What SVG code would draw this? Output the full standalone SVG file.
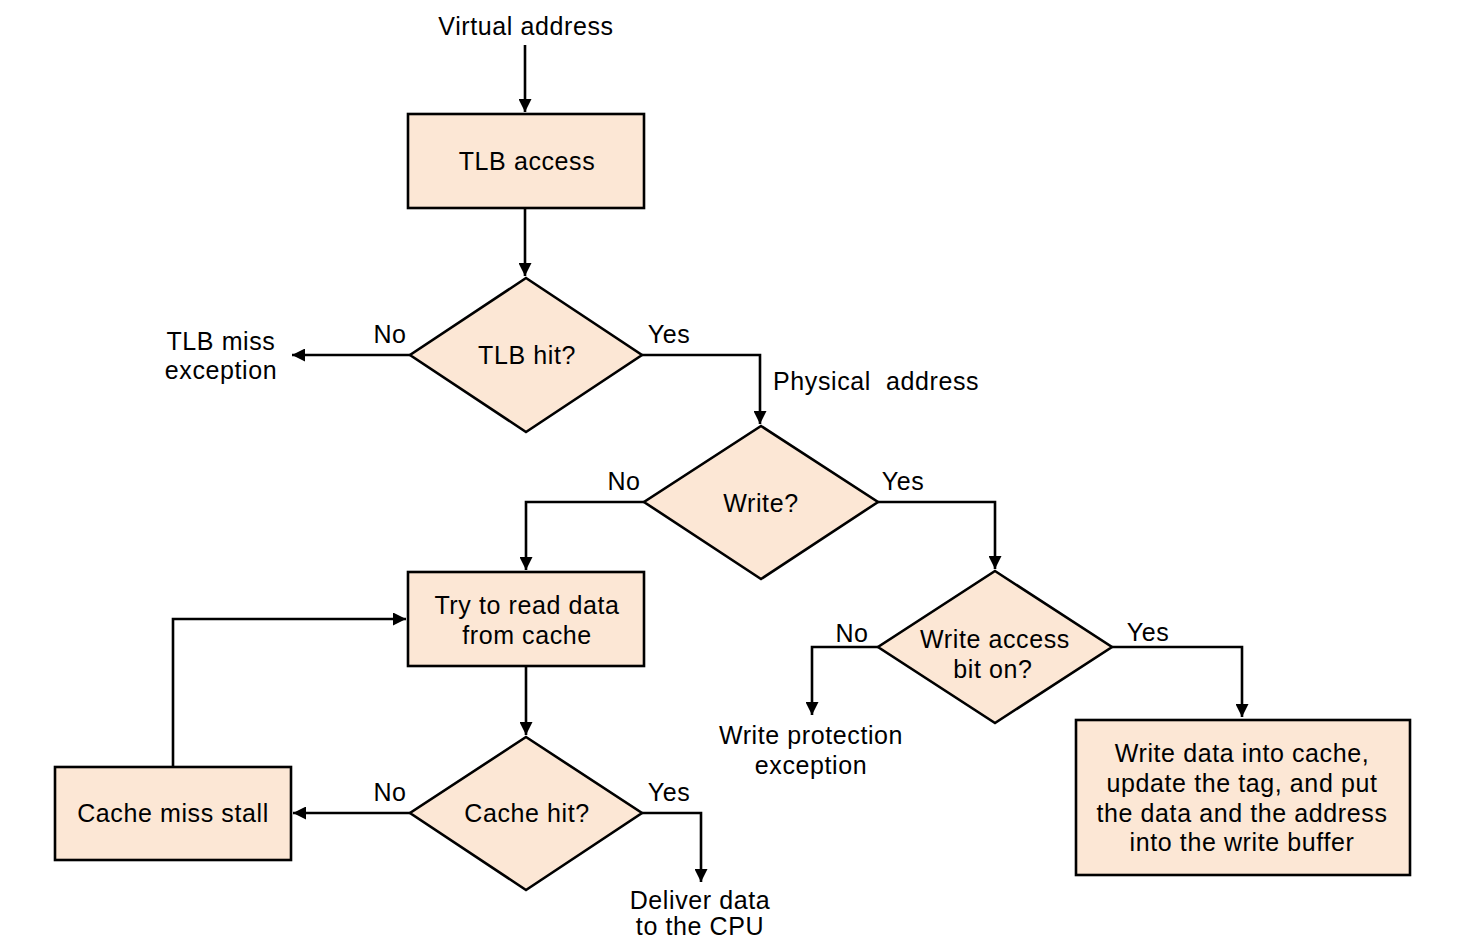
<svg xmlns="http://www.w3.org/2000/svg" width="1481" height="941" viewBox="0 0 1481 941">
<style>
.box{fill:#FCE7D5;stroke:#000;stroke-width:2.6}
.c{fill:none;stroke:#000;stroke-width:2.6}
text{font-family:"Liberation Sans",Arial,sans-serif;font-size:25px;letter-spacing:0.6px;fill:#000;text-anchor:middle}
.l{text-anchor:start}
</style>
<defs>
<marker id="ah" viewBox="0 0 13 13" refX="13" refY="6.5" markerWidth="13" markerHeight="13" markerUnits="userSpaceOnUse" orient="auto">
<path d="M0,0 L13,6.5 L0,13 Z" fill="#000"/>
</marker>
</defs>
<rect width="1481" height="941" fill="#fff"/>
<g id="connectors">
<path class="c" d="M525,45 V112" marker-end="url(#ah)"/>
<path class="c" d="M525,208 V276" marker-end="url(#ah)"/>
<path class="c" d="M410,355 H292" marker-end="url(#ah)"/>
<path class="c" d="M642,355 H760 V424" marker-end="url(#ah)"/>
<path class="c" d="M644,502 H526 V570" marker-end="url(#ah)"/>
<path class="c" d="M878,502 H995 V569" marker-end="url(#ah)"/>
<path class="c" d="M526,666 V735" marker-end="url(#ah)"/>
<path class="c" d="M410,813 H293" marker-end="url(#ah)"/>
<path class="c" d="M173,767 V619 H406" marker-end="url(#ah)"/>
<path class="c" d="M642,813 H701 V882" marker-end="url(#ah)"/>
<path class="c" d="M878,647 H812 V715" marker-end="url(#ah)"/>
<path class="c" d="M1112,647 H1242 V717" marker-end="url(#ah)"/>
<text x="390" y="343">No</text>
<text x="669" y="343">Yes</text>
<text class="l" x="773" y="390">Physical&#160; address</text>
<text x="624" y="490">No</text>
<text x="903" y="490">Yes</text>
<text x="852" y="642">No</text>
<text x="1148" y="641">Yes</text>
<text x="390" y="801">No</text>
<text x="669" y="801">Yes</text>
</g>
<g id="virtual-address"><text x="526" y="35">Virtual address</text></g>
<g id="tlb-access">
<rect class="box" x="408" y="114" width="236" height="94"/>
<text x="527" y="170">TLB access</text>
</g>
<g id="tlb-hit">
<path class="box" d="M526,278 L642,355 L526,432 L410,355 Z"/>
<text x="527" y="364">TLB hit?</text>
</g>
<g id="tlb-miss">
<text x="221" y="350">TLB miss</text>
<text x="221" y="379">exception</text>
</g>
<g id="write">
<path class="box" d="M761,426 L878,502 L761,579 L644,502 Z"/>
<text x="761" y="512">Write?</text>
</g>
<g id="try-read">
<rect class="box" x="408" y="572" width="236" height="94"/>
<text x="527" y="614">Try to read data</text>
<text x="527" y="644">from cache</text>
</g>
<g id="cache-hit">
<path class="box" d="M526,737 L642,813 L526,890 L410,813 Z"/>
<text x="527" y="822">Cache hit?</text>
</g>
<g id="cache-miss-stall">
<rect class="box" x="55" y="767" width="236" height="93"/>
<text x="173" y="822">Cache miss stall</text>
</g>
<g id="deliver">
<text x="700" y="909">Deliver data</text>
<text x="700" y="935">to the CPU</text>
</g>
<g id="write-access">
<path class="box" d="M995,571 L1112,647 L995,723 L878,647 Z"/>
<text x="995" y="648">Write access</text>
<text x="993" y="678">bit on?</text>
</g>
<g id="write-protection">
<text x="811" y="744">Write protection</text>
<text x="811" y="774">exception</text>
</g>
<g id="write-data">
<rect class="box" x="1076" y="720" width="334" height="155"/>
<text x="1242" y="762">Write data into cache,</text>
<text x="1242" y="792">update the tag, and put</text>
<text x="1242" y="822">the data and the address</text>
<text x="1242" y="851">into the write buffer</text>
</g>
</svg>
